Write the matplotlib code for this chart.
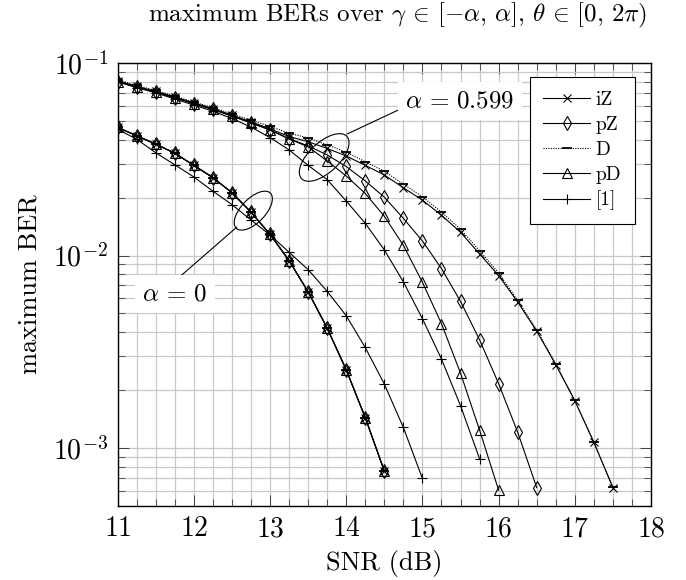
import numpy as np
import matplotlib
matplotlib.use("Agg")
import matplotlib.pyplot as plt
from matplotlib.patches import Ellipse
from matplotlib.transforms import ScaledTranslation
from matplotlib.ticker import MultipleLocator, LogLocator, NullFormatter

plt.rcParams["font.family"] = ["cmr10", "DejaVu Serif"]
plt.rcParams["mathtext.fontset"] = "cm"
plt.rcParams["axes.unicode_minus"] = False
plt.rcParams["axes.formatter.use_mathtext"] = True

# alpha = 0.599
snr_iz = np.arange(27) * 0.25 + 11
ber_iz = [0.0809, 0.0756, 0.0713, 0.0666, 0.0621, 0.0580, 0.0536, 0.0495, 0.0455,
          0.0415, 0.0390, 0.0360, 0.0329, 0.0294, 0.0262, 0.0225, 0.0194, 0.0162,
          0.0132, 0.0102, 0.00787, 0.00574, 0.00405, 0.00271, 0.00176, 0.00107,
          0.000623]
ber_d = [0.0817, 0.0764, 0.0720, 0.0673, 0.0627, 0.0586, 0.0544, 0.0505, 0.0469,
         0.0432, 0.0408, 0.0376, 0.0344, 0.0307, 0.0274, 0.0235, 0.0202, 0.0168,
         0.0137, 0.0106, 0.0081, 0.00585, 0.00411, 0.00274, 0.00177, 0.00107,
         0.000625]
snr_pz = np.arange(23) * 0.25 + 11
ber_pz = [0.0800, 0.0748, 0.0706, 0.0660, 0.0615, 0.0574, 0.0530, 0.0489, 0.0449,
          0.0405, 0.0371, 0.0333, 0.0290, 0.0244, 0.0201, 0.0156, 0.0119, 0.00856,
          0.00578, 0.00365, 0.00216, 0.00121, 0.000623]
snr_pd = np.arange(21) * 0.25 + 11
ber_pd = [0.0800, 0.0748, 0.0706, 0.0660, 0.0615, 0.0574, 0.0530, 0.0489, 0.0449,
          0.0403, 0.0367, 0.0310, 0.0259, 0.0210, 0.0160, 0.0113, 0.00727, 0.00443,
          0.00245, 0.00124, 0.000604]
snr_ref = np.arange(20) * 0.25 + 11
ber_ref = [0.0800, 0.0745, 0.0700, 0.0650, 0.0605, 0.0562, 0.0515, 0.0465, 0.0410,
           0.0354, 0.0294, 0.0248, 0.0192, 0.0147, 0.0107, 0.0073, 0.0047, 0.0029,
           0.00166, 0.00088]

# alpha = 0
snr_prop0 = np.arange(15) * 0.25 + 11
ber_prop0 = [0.0463, 0.0419, 0.0379, 0.0340, 0.0294, 0.0254, 0.0212, 0.0168, 0.0129,
             0.00942, 0.00648, 0.00420, 0.00255, 0.00144, 0.00076]
snr_ref0 = np.arange(17) * 0.25 + 11
ber_ref0 = [0.0453, 0.0402, 0.0342, 0.0296, 0.0256, 0.0216, 0.0184, 0.0153, 0.0128,
            0.0104, 0.00845, 0.00652, 0.00487, 0.00333, 0.00215, 0.00128, 0.000695]

fig = plt.figure(figsize=(6.86, 5.80), dpi=100)
ax = fig.add_axes([0.1714, 0.1276, 0.7776, 0.7638])

lw = 0.8
st_iz = dict(color="black", lw=lw, marker="x", ms=5.5, mew=0.8)
st_pz = dict(color="black", lw=lw, marker="d", ms=7, mew=0.8, mfc="none")
st_d = dict(color="black", lw=lw, ls=(0, (1, 1.2)), marker="_", ms=6.5, mew=1.3)
st_pd = dict(color="black", lw=lw, marker="^", ms=6.5, mew=0.8, mfc="none")
st_ref = dict(color="black", lw=lw, marker="+", ms=7.5, mew=0.8)

ax.semilogy(snr_iz, ber_iz, label="iZ", **st_iz)
ax.semilogy(snr_pz, ber_pz, label="pZ", **st_pz)
ax.semilogy(snr_iz, ber_d, label="D", **st_d)
ax.semilogy(snr_pd, ber_pd, label="pD", **st_pd)
ax.semilogy(snr_ref, ber_ref, label="[1]", **st_ref)

ax.semilogy(snr_prop0, ber_prop0, **st_iz)
ax.semilogy(snr_prop0, ber_prop0, **st_pz)
ax.semilogy(snr_prop0, ber_prop0, **st_d)
ax.semilogy(snr_prop0, ber_prop0, **st_pd)
ax.semilogy(snr_ref0, ber_ref0, **st_ref)

ax.set_xlim(11, 18)
ax.set_ylim(5e-4, 0.1)
ax.xaxis.set_major_locator(MultipleLocator(1))
ax.xaxis.set_minor_locator(MultipleLocator(0.25))
ax.yaxis.set_major_locator(LogLocator(base=10, numticks=10))
ax.yaxis.set_minor_locator(LogLocator(base=10, subs=np.arange(2, 10), numticks=20))
ax.yaxis.set_minor_formatter(NullFormatter())

ax.grid(True, which="both", color="#c8c8c8", lw=0.9)
ax.set_axisbelow(True)
ax.tick_params(which="both", direction="in", top=True, right=True, color="#404040")
ax.tick_params(which="major", length=8, width=0.7, labelsize=20, pad=7)
ax.tick_params(which="minor", length=5, width=0.6)
for sp in ax.spines.values():
    sp.set_linewidth(1.0)

ax.set_xlabel("SNR (dB)", fontsize=19, labelpad=6)
ax.set_ylabel("maximum BER", fontsize=19, labelpad=8)
ax.set_title(r"maximum BERs over $\gamma\,\in\,[-\alpha,\,\alpha],\,\theta\,\in\,[0,\,2\pi)$",
             fontsize=18, pad=30, x=0.524)

leg = ax.legend(loc="upper right", bbox_to_anchor=(0.970, 0.968), borderaxespad=0,
                fontsize=14, fancybox=False, framealpha=1, edgecolor="black",
                handlelength=2.4, handletextpad=0.3, labelspacing=0.36, borderpad=0.7)
leg.get_frame().set_linewidth(0.8)

# annotations
def add_ellipse(x, y, w_px, h_px, angle):
    tr = fig.dpi_scale_trans + ScaledTranslation(x, y, ax.transData)
    e = Ellipse((0, 0), w_px / 100, h_px / 100, angle=angle, transform=tr,
                fill=False, ec="black", lw=0.8, zorder=5)
    ax.add_patch(e)

add_ellipse(13.711, 0.0323, 62, 30, 43)
add_ellipse(12.781, 0.0171, 49, 24, 46)

ax.plot([14.014, 14.684], [0.0428, 0.0570], color="black", lw=0.8, zorder=5)
ax.plot([12.563, 11.753], [0.01403, 0.00738], color="black", lw=0.8, zorder=5)

box = dict(boxstyle="square,pad=0.3", fc="white", ec="none")
ax.text(15.493, 0.0635, r"$\alpha\,=\,0.599$", fontsize=18, ha="center", va="center",
        bbox=box, zorder=6)
ax.text(11.753, 0.00631, r"$\alpha\,=\,0$", fontsize=18, ha="center", va="center",
        bbox=box, zorder=6)

fig.savefig("out.png", dpi=100)
